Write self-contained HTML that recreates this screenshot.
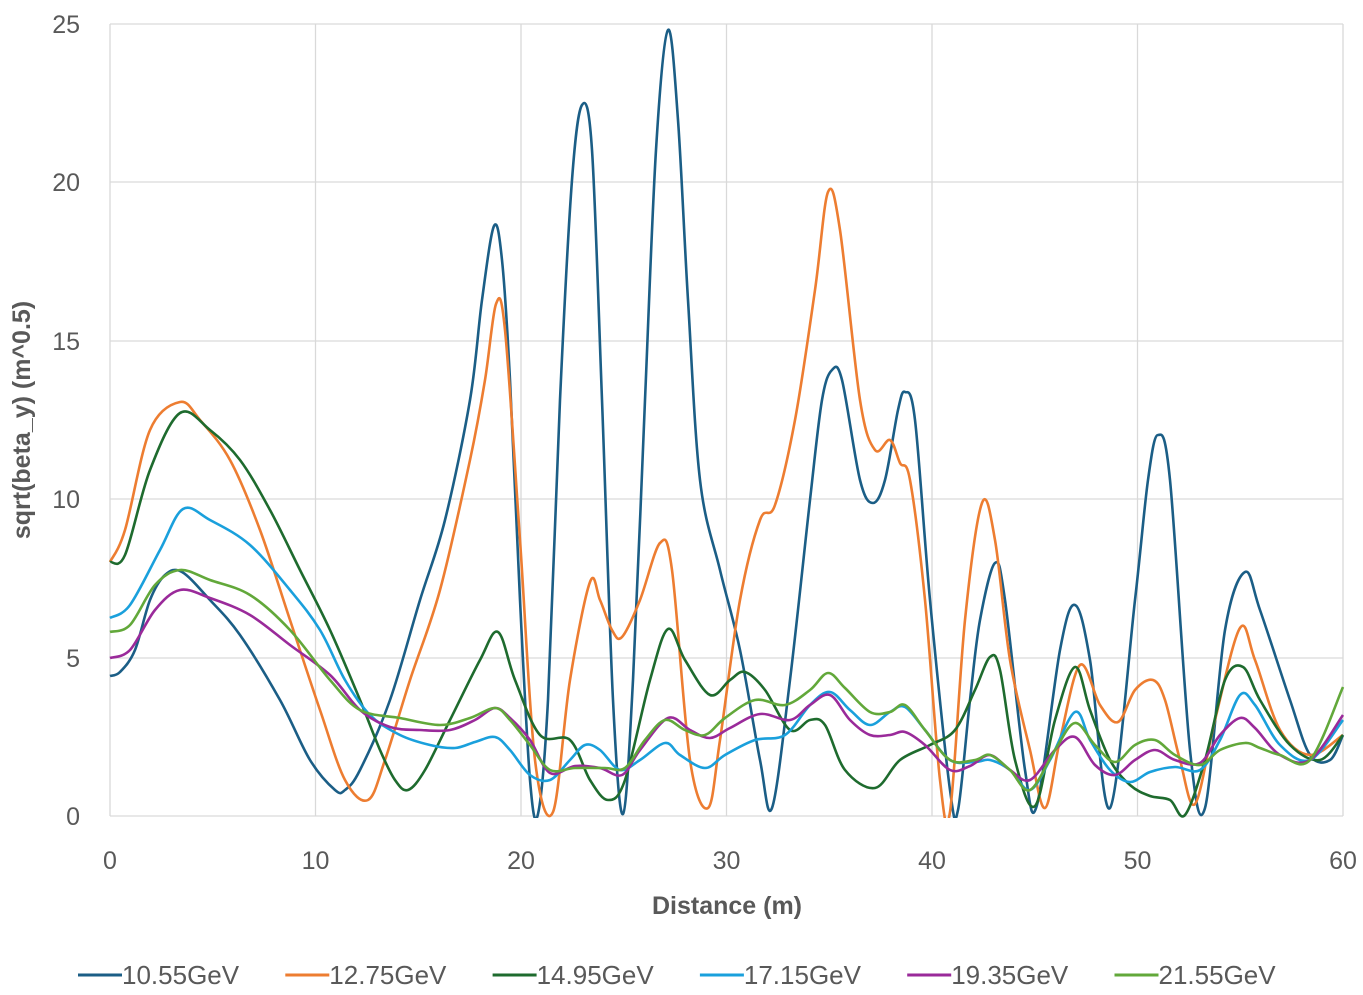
<!DOCTYPE html>
<html><head><meta charset="utf-8"><style>
html,body{margin:0;padding:0;background:#fff;}
svg{display:block;font-family:"Liberation Sans",sans-serif;}
</style></head><body>
<svg id="s" width="1363" height="995" viewBox="0 0 1363 995" xmlns="http://www.w3.org/2000/svg">
<defs><clipPath id="cp"><rect x="100" y="10" width="1263" height="808"/></clipPath></defs>
<g stroke="#d9d9d9" stroke-width="1.3">
<line x1="110" y1="24" x2="1343" y2="24"/><line x1="110" y1="182" x2="1343" y2="182"/>
<line x1="110" y1="341" x2="1343" y2="341"/><line x1="110" y1="499" x2="1343" y2="499"/>
<line x1="110" y1="658" x2="1343" y2="658"/><line x1="110" y1="816" x2="1343" y2="816"/>
<line x1="110" y1="24" x2="110" y2="816"/><line x1="315.5" y1="24" x2="315.5" y2="816"/>
<line x1="521" y1="24" x2="521" y2="816"/><line x1="726.5" y1="24" x2="726.5" y2="816"/>
<line x1="932" y1="24" x2="932" y2="816"/><line x1="1137.5" y1="24" x2="1137.5" y2="816"/>
<line x1="1343" y1="24" x2="1343" y2="816"/>
</g>
<g fill="#595959" font-size="25" text-anchor="end">
<text x="80" y="33">25</text><text x="80" y="191">20</text><text x="80" y="350">15</text>
<text x="80" y="508">10</text><text x="80" y="667">5</text><text x="80" y="825">0</text>
</g>
<g fill="#595959" font-size="25" text-anchor="middle">
<text x="110" y="869">0</text><text x="315.5" y="869">10</text><text x="521" y="869">20</text>
<text x="726.5" y="869">30</text><text x="932" y="869">40</text><text x="1137.5" y="869">50</text><text x="1343" y="869">60</text>
<text x="727" y="914" font-weight="bold" font-size="25">Distance (m)</text>
<text transform="translate(30,420) rotate(-90)" font-weight="bold" font-size="25">sqrt(beta_y) (m^0.5)</text>
</g>
<g id="series" fill="none" stroke-width="2.6" stroke-linejoin="round" clip-path="url(#cp)"></g>
<g font-size="26" fill="#595959" id="leg"></g>
</svg>
<script>
var S=[
["#1b5e86","10.55GeV",[110,676,120,672,135,650,150,600,165,575,182,572,210,600,240,635,280,700,310,760,335,790,345,790,360,770,390,700,420,600,445,520,470,400,482,300,494,226,502,260,510,380,520,600,530,780,538,814,548,700,560,400,572,180,582,105,592,150,602,400,613,700,623,814,633,680,645,400,656,150,668,30,678,120,688,300,700,480,720,570,740,650,760,760,772,808,790,680,810,500,822,400,832,370,842,380,860,480,873,503,885,480,898,410,905,392,915,420,930,600,950,790,958,810,970,700,980,620,995,563,1005,600,1025,770,1037,805,1060,650,1075,605,1090,660,1110,808,1135,600,1148,480,1158,435,1170,480,1190,750,1205,808,1225,630,1245,572,1260,610,1290,700,1310,755,1330,760,1343,735]],
["#ed7d31","12.75GeV",[110,562,125,530,150,430,180,402,200,420,230,460,260,530,290,620,320,710,345,780,368,800,385,760,410,680,440,590,470,460,485,380,496,304,505,330,520,540,535,760,553,812,570,680,590,582,600,600,612,630,622,637,640,600,660,543,672,570,690,760,708,808,720,740,740,600,760,520,775,505,795,420,815,290,828,192,840,230,860,400,875,450,890,440,900,463,910,480,925,600,940,780,950,812,965,620,982,503,995,540,1010,660,1030,750,1045,808,1060,740,1080,665,1100,705,1118,722,1135,690,1153,680,1165,700,1180,760,1195,804,1215,720,1240,628,1255,660,1280,730,1310,755,1343,735]],
["#1e6b2e","14.95GeV",[110,562,125,555,150,470,180,413,210,430,240,460,270,510,300,570,330,630,360,700,380,750,395,780,408,790,425,770,450,720,480,660,498,632,515,680,540,735,570,740,590,780,608,800,625,780,650,680,668,629,685,660,710,695,730,680,745,672,765,690,790,730,810,720,825,725,845,770,875,788,900,760,930,745,955,730,975,690,990,657,1000,670,1015,760,1035,806,1055,720,1075,667,1090,710,1110,760,1130,785,1150,796,1170,800,1185,815,1205,760,1225,680,1243,667,1260,700,1290,745,1320,760,1343,735]],
["#1aa0dc","17.15GeV",[110,618,130,605,160,550,183,509,210,520,250,545,290,590,320,630,345,680,370,715,400,735,430,745,455,748,475,742,495,737,510,750,530,775,550,780,570,760,585,745,600,750,620,770,640,760,665,743,680,755,705,768,725,755,755,740,785,735,810,705,830,692,850,710,870,725,890,712,905,707,925,730,950,760,975,762,990,760,1010,770,1030,790,1050,760,1075,712,1090,740,1110,770,1130,782,1150,772,1175,767,1200,770,1220,740,1240,695,1255,705,1280,745,1310,760,1343,720]],
["#9a2a9a","19.35GeV",[110,658,130,650,155,610,180,590,210,598,250,615,290,645,330,675,360,710,390,727,420,730,450,730,475,720,495,708,510,718,530,740,550,773,575,766,600,768,622,775,640,750,668,718,690,730,710,738,730,728,760,714,790,720,810,705,830,695,850,720,870,735,890,735,905,732,925,745,950,770,970,766,990,755,1010,770,1030,780,1055,750,1075,737,1095,765,1115,775,1135,760,1155,750,1175,760,1200,763,1220,735,1240,718,1255,728,1280,755,1310,760,1343,715]],
["#62a83a","21.55GeV",[110,632,130,625,155,585,180,570,210,580,250,595,290,630,330,680,360,710,400,718,440,725,470,718,495,708,510,720,530,745,550,770,575,768,605,768,625,768,645,740,665,720,685,730,705,735,725,718,755,700,785,705,810,690,828,673,845,688,870,712,890,712,905,705,925,730,950,760,975,760,990,755,1010,770,1030,790,1055,750,1075,723,1095,745,1115,762,1135,745,1155,740,1175,755,1200,765,1220,750,1245,743,1260,748,1280,755,1310,760,1343,687]]
];
var NS="http://www.w3.org/2000/svg",g=document.getElementById("series"),L=document.getElementById("leg");
S.forEach(function(s,i){
 var a=s[2],p=[];for(var k=0;k<a.length;k+=2)p.push([a[k],a[k+1]]);
 var d="M"+p[0][0]+","+p[0][1];
 for(var k=0;k<p.length-1;k++){
  var p0=p[k-1]||p[k],p1=p[k],p2=p[k+1],p3=p[k+2]||p2;
  var c1x=p1[0]+(p2[0]-p0[0])/6,c1y=p1[1]+(p2[1]-p0[1])/6,c2x=p2[0]-(p3[0]-p1[0])/6,c2y=p2[1]-(p3[1]-p1[1])/6;
  d+=" C"+c1x.toFixed(1)+","+c1y.toFixed(1)+" "+c2x.toFixed(1)+","+c2y.toFixed(1)+" "+p2[0]+","+p2[1];
 }
 var e=document.createElementNS(NS,"path");e.setAttribute("d",d);e.setAttribute("stroke",s[0]);g.appendChild(e);
 var x=78+i*207.3;
 var l=document.createElementNS(NS,"line");l.setAttribute("x1",x);l.setAttribute("x2",x+44);l.setAttribute("y1",975);l.setAttribute("y2",975);l.setAttribute("stroke",s[0]);l.setAttribute("stroke-width",3);L.appendChild(l);
 var t=document.createElementNS(NS,"text");t.setAttribute("x",x+44);t.setAttribute("y",984);t.textContent=s[1];L.appendChild(t);
});
</script>
</body></html>
